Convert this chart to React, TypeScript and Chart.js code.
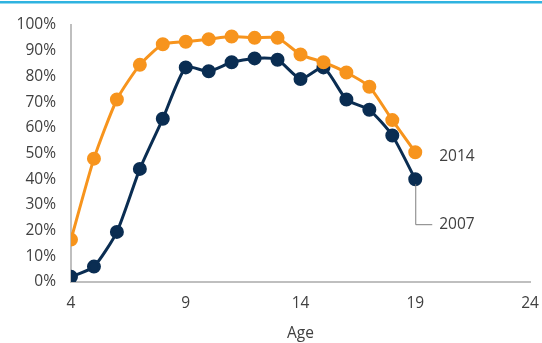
import React, { useEffect, useRef } from "react";
import { Chart, registerables } from "chart.js";

Chart.register(...registerables);

const ages = [4, 5, 6, 7, 8, 9, 10, 11, 12, 13, 14, 15, 16, 17, 18, 19];
const values2014 = [16.5, 48, 71, 84.5, 92.5, 93.5, 94.5, 95.5, 95, 95, 88.5, 85.5, 81.5, 76, 63, 50.5];
const values2007 = [2, 6, 19.5, 44, 63.5, 83.5, 82, 85.5, 87, 86.5, 79, 83.5, 71, 67, 57, 40];
const xTicks = [4, 9, 14, 19, 24];
const seriesLabels = ["2014", "2007"];

const ORANGE = "#F7941D";
const NAVY = "#0A2D52";
const TEXT = "#404040";
const AXIS = "#BFBFBF";
const RULE = "#2FB3E0";
const FONT = "'Open Sans', 'Noto Sans', sans-serif";

const topRulePlugin = {
  id: "topRule",
  afterDraw(chart: any) {
    const ctx = chart.ctx;
    ctx.save();
    ctx.fillStyle = RULE;
    ctx.fillRect(0, 1, chart.width, 2.5);
    ctx.restore();
  },
};

const labelPlugin = {
  id: "endLabels",
  afterDatasetsDraw(chart: any) {
    const ctx = chart.ctx;
    const xs = chart.scales.x;
    const ys = chart.scales.y;
    const last = ages.length - 1;
    const x14 = xs.getPixelForValue(ages[last]);
    const y14 = ys.getPixelForValue(values2014[last]);
    const x07 = xs.getPixelForValue(ages[last]);
    const y07 = ys.getPixelForValue(values2007[last]);
    ctx.save();
    ctx.font = `15.5px ${FONT}`;
    ctx.fillStyle = TEXT;
    ctx.textBaseline = "middle";
    ctx.textAlign = "left";
    ctx.fillText(seriesLabels[0], x14 + 24, y14 + 4);
    // leader for 2007
    const ly = y07 + 45;
    ctx.strokeStyle = "#7F7F7F";
    ctx.lineWidth = 1;
    ctx.beginPath();
    ctx.moveTo(x07 + 0.5, y07 + 5);
    ctx.lineTo(x07 + 0.5, ly + 0.5);
    ctx.lineTo(x07 + 17, ly + 0.5);
    ctx.stroke();
    ctx.fillText(seriesLabels[1], x07 + 24, ly);
    ctx.restore();
  },
};

export default function App() {
  const ref = useRef<HTMLCanvasElement | null>(null);
  useEffect(() => {
    if (!ref.current) return;
    const chart = new Chart(ref.current, {
      type: "line",
      data: {
        datasets: [
          {
            label: seriesLabels[0],
            data: ages.map((a, i) => ({ x: a, y: values2014[i] })),
            borderColor: ORANGE,
            backgroundColor: ORANGE,
            borderWidth: 3,
            pointRadius: 5.5,
            pointHoverRadius: 5.5,
            tension: 0.2,
          },
          {
            label: seriesLabels[1],
            data: ages.map((a, i) => ({ x: a, y: values2007[i] })),
            borderColor: NAVY,
            backgroundColor: NAVY,
            borderWidth: 3,
            pointRadius: 5.5,
            pointHoverRadius: 5.5,
            tension: 0.2,
          },
        ],
      },
      options: {
        animation: false,
        responsive: false,
        maintainAspectRatio: false,
        layout: { padding: { top: 25, right: 12, left: 0, bottom: 0 } },
        plugins: { legend: { display: false }, tooltip: { enabled: false } },
        scales: {
          x: {
            type: "linear",
            min: 4,
            max: 24,
            afterBuildTicks: (s: any) => {
              s.ticks = xTicks.map((v) => ({ value: v }));
            },
            afterFit: (s: any) => {
              s.height = 61;
              s.paddingLeft = 0;
              s.paddingRight = 0;
            },
            grid: { display: false, drawTicks: false },
            border: { color: AXIS, width: 2 },
            ticks: { color: TEXT, font: { size: 15.5, family: FONT }, padding: 12, maxRotation: 0 },
            title: { display: true, text: "Age", color: TEXT, font: { size: 15.5, family: FONT }, padding: { top: 7, bottom: 0 } },
          },
          y: {
            min: 0,
            max: 100,
            afterFit: (s: any) => {
              s.width = 71;
              s.paddingTop = 0;
              s.paddingBottom = 0;
            },
            grid: { display: false, drawTicks: false },
            border: { color: AXIS, width: 2 },
            ticks: {
              stepSize: 10,
              color: TEXT,
              font: { size: 15.5, family: FONT },
              padding: 15,
              callback: (v: any) => `${v}%`,
            },
          },
        },
      },
      plugins: [topRulePlugin, labelPlugin],
    });
    return () => chart.destroy();
  }, []);
  return (
    <div style={{ position: "fixed", left: 0, top: 0, width: 542, height: 343, background: "#fff" }}>
      <canvas ref={ref} width={542} height={343} style={{ position: "absolute", left: 0, top: 0, display: "block", width: 542, height: 343 }} />
    </div>
  );
}
